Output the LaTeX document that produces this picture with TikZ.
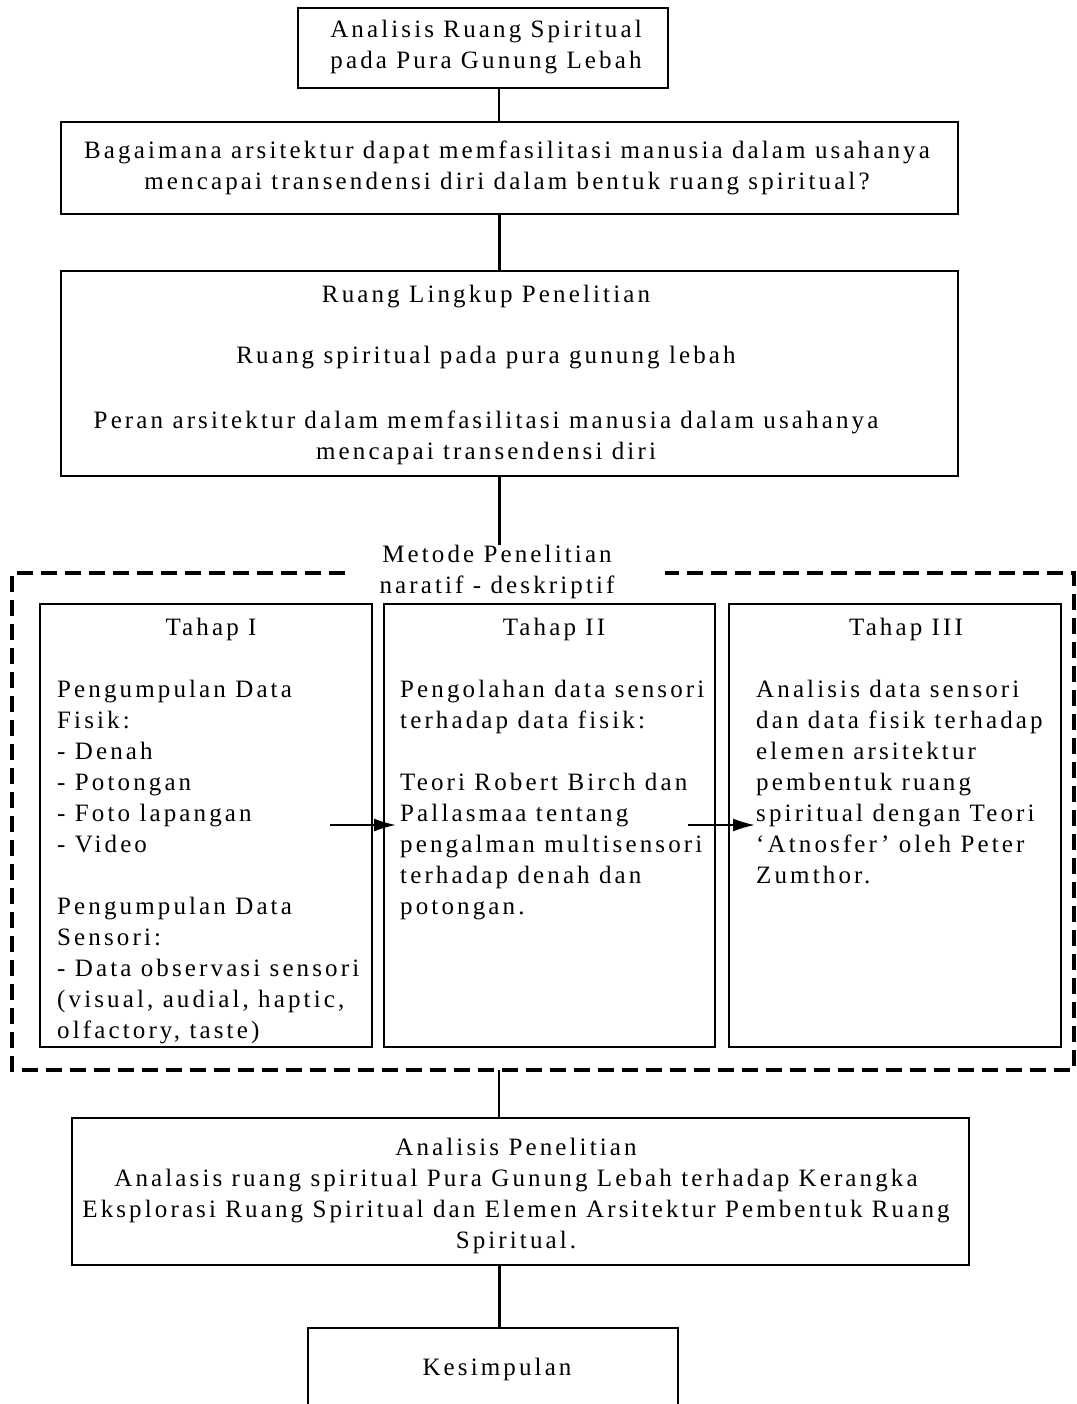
\documentclass[tikz,border=0pt]{standalone}
\usepackage{fontspec}
\setmainfont{Liberation Serif}[LetterSpace=12.5]
\usetikzlibrary{arrows.meta}
\begin{document}
\begin{tikzpicture}[x=1pt,y=-1pt,
  box/.style={draw,line width=1.8pt,inner sep=0pt},
  txt/.style={font=\fontsize{25}{31}\selectfont,inner sep=0pt,align=center},
  ltxt/.style={font=\fontsize{25}{31}\selectfont,inner sep=0pt,align=left,anchor=north west},
  conn/.style={line width=1.8pt},
  thick conn/.style={line width=3pt},
  arr/.style={line width=2pt,-{Latex[length=22pt,width=13pt]}}]
\useasboundingbox (0,0) rectangle (1076,1404);
\clip (0,0) rectangle (1076,1404);
\coordinate (cx) at (499,0);
% boxes
\node[box,minimum width=370pt,minimum height=80pt] (b1) at (483,48) {};
\node[txt] (t1) at (486,47) {Analisis Ruang Spiritual\\pada Pura Gunung Lebah};
\node[box,minimum width=897pt,minimum height=92pt] (b2) at (509.5,168) {};
\node[txt] (t2) at (507,168) {Bagaimana arsitektur dapat memfasilitasi manusia dalam usahanya\\mencapai transendensi diri dalam bentuk ruang spiritual?};
\node[box,minimum width=897pt,minimum height=205pt] (b3) at (509.5,373.5) {};
\node[txt] (t3a) at (486,297) {Ruang Lingkup Penelitian};
\node[txt] (t3b) at (486,358) {Ruang spiritual pada pura gunung lebah};
\node[txt] (t3c) at (486,438) {Peran arsitektur dalam memfasilitasi manusia dalam usahanya\\mencapai transendensi diri};
% method
\node[txt] (mt) at (497,572) {Metode Penelitian\\naratif - deskriptif};
\coordinate (dgl) at (345,573);
\coordinate (dgr) at (665,573);
\coordinate (dbot) at (499,1070);
\draw[line width=3.5pt,dash pattern=on 16pt off 8pt] (dgl) -- (12,573) -- (12,1070) -- (1074,1070) -- (1074,573) -- (dgr);
\node[box,minimum width=332pt,minimum height=443pt] (s1) at (206,825.5) {};
\node[box,minimum width=331pt,minimum height=443pt] (s2) at (549.5,825.5) {};
\node[box,minimum width=332pt,minimum height=443pt] (s3) at (895,825.5) {};
\node[txt] (h1) at (211,629) {Tahap I};
\node[txt] (h2) at (554,629) {Tahap II};
\node[txt] (h3) at (906,629) {Tahap III};
\node[ltxt] (p1) at (57,680) {Pengumpulan Data\\Fisik:\\- Denah\\- Potongan\\- Foto lapangan\\- Video\\[31pt]Pengumpulan Data\\Sensori:\\- Data observasi sensori\\(visual, audial, haptic,\\olfactory, taste)};
\node[ltxt] (p2) at (400,680) {Pengolahan data sensori\\terhadap data fisik:\\[31pt]Teori Robert Birch dan\\Pallasmaa tentang\\pengalman multisensori\\terhadap denah dan\\potongan.};
\node[ltxt] (p3) at (756,680) {Analisis data sensori\\dan data fisik terhadap\\elemen arsitektur\\pembentuk ruang\\spiritual dengan Teori\\`Atnosfer' oleh Peter\\Zumthor.};
\coordinate (a1s) at (330,825);
\coordinate (a1e) at (396,825);
\coordinate (a2s) at (688,825);
\coordinate (a2e) at (755,825);
\draw[arr] (a1s) -- (a1e);
\draw[arr] (a2s) -- (a2e);
% bottom
\node[box,minimum width=897pt,minimum height=147pt] (b4) at (520.5,1191.5) {};
\node[txt] (t4) at (516,1196) {Analisis Penelitian\\Analasis ruang spiritual Pura Gunung Lebah terhadap Kerangka\\Eksplorasi Ruang Spiritual dan Elemen Arsitektur Pembentuk Ruang\\Spiritual.};
\node[box,minimum width=370pt,minimum height=92pt] (b5) at (493,1374) {};
\node[txt] (t5) at (497,1369) {Kesimpulan};
% connectors
\draw[conn] (b1.south -| cx) -- (b2.north -| cx);
\draw[thick conn] (b2.south -| cx) -- (b3.north -| cx);
\draw[thick conn] (b3.south -| cx) -- (mt.north -| cx);
\draw[conn] (dbot) -- (b4.north -| cx);
\draw[thick conn] (b4.south -| cx) -- (b5.north -| cx);
\end{tikzpicture}
\end{document}
